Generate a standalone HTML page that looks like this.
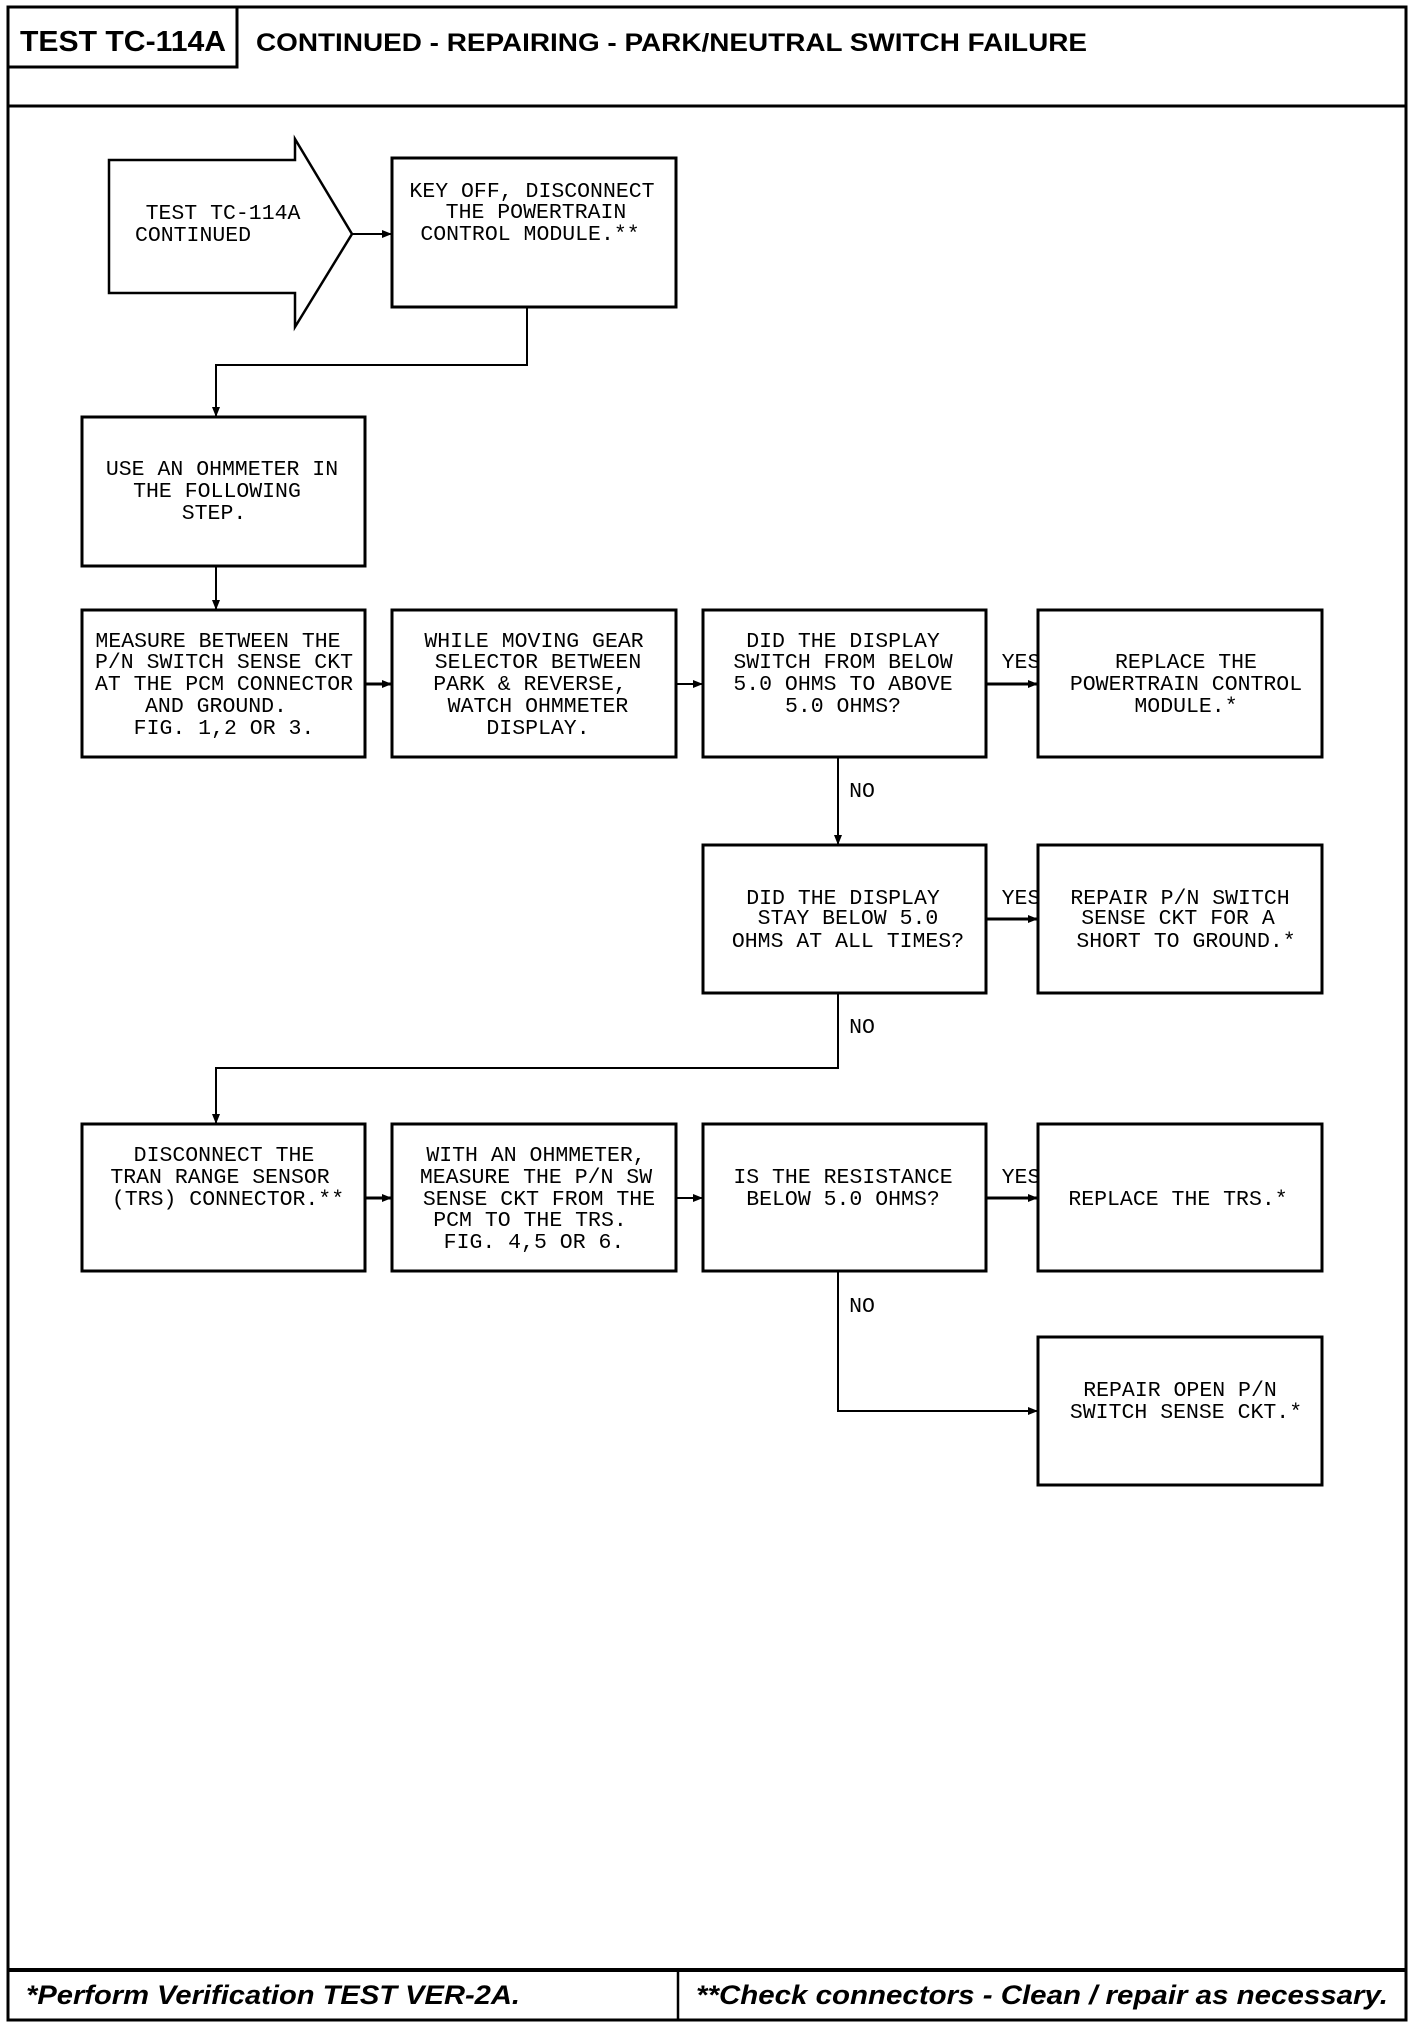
<!DOCTYPE html>
<html><head><meta charset="utf-8"><style>
html,body{margin:0;padding:0;background:#fff;}
svg{display:block;}
.t{font-family:"Liberation Mono",monospace;font-size:21.5px;fill:#000;text-anchor:middle;}
.h{font-family:"Liberation Sans",sans-serif;font-weight:bold;fill:#000;}
.f{font-family:"Liberation Sans",sans-serif;font-weight:bold;font-style:italic;fill:#000;}
</style></head><body>
<svg width="1424" height="2034" viewBox="0 0 1424 2034" xmlns="http://www.w3.org/2000/svg">
<defs><marker id="a" markerWidth="10" markerHeight="10" refX="9" refY="5" orient="auto" markerUnits="userSpaceOnUse"><path d="M0,1 L10,5 L0,9 z" fill="#000"/></marker></defs>
<g fill="none" stroke="#000">
<rect x="8" y="7" width="1398" height="2013" stroke-width="3"/>
<line x1="8" y1="106" x2="1406" y2="106" stroke-width="3"/>
<rect x="8" y="7" width="229" height="60" stroke-width="3"/>
<line x1="8" y1="1970" x2="1406" y2="1970" stroke-width="4"/>
<line x1="678" y1="1970" x2="678" y2="2020" stroke-width="2.5"/>
<path d="M109,160 L295,160 L295,139 L352,234 L295,327 L295,293 L109,293 Z" stroke-width="2.5"/>
<g stroke-width="3">
<rect x="392" y="158" width="284" height="149"/>
<rect x="82" y="417" width="283" height="149"/>
<rect x="82" y="610" width="283" height="147"/>
<rect x="392" y="610" width="284" height="147"/>
<rect x="703" y="610" width="283" height="147"/>
<rect x="1038" y="610" width="284" height="147"/>
<rect x="703" y="845" width="283" height="148"/>
<rect x="1038" y="845" width="284" height="148"/>
<rect x="82" y="1124" width="283" height="147"/>
<rect x="392" y="1124" width="284" height="147"/>
<rect x="703" y="1124" width="283" height="147"/>
<rect x="1038" y="1124" width="284" height="147"/>
<rect x="1038" y="1337" width="284" height="148"/>
</g>
<g stroke-width="2">
<line x1="352" y1="234" x2="391" y2="234" marker-end="url(#a)"/>
<path d="M527,307 L527,365 L216,365 L216,416" marker-end="url(#a)"/>
<line x1="216" y1="566" x2="216" y2="609" marker-end="url(#a)"/>
<line x1="365" y1="684" x2="391" y2="684" marker-end="url(#a)" stroke-width="3"/>
<line x1="676" y1="684" x2="702" y2="684" marker-end="url(#a)"/>
<line x1="986" y1="684" x2="1037" y2="684" marker-end="url(#a)" stroke-width="3"/>
<line x1="838" y1="757" x2="838" y2="844" marker-end="url(#a)"/>
<line x1="986" y1="919" x2="1037" y2="919" marker-end="url(#a)" stroke-width="3"/>
<path d="M838,993 L838,1068 L216,1068 L216,1123" marker-end="url(#a)"/>
<line x1="365" y1="1198" x2="391" y2="1198" marker-end="url(#a)" stroke-width="3"/>
<line x1="676" y1="1198" x2="702" y2="1198" marker-end="url(#a)"/>
<line x1="986" y1="1198" x2="1037" y2="1198" marker-end="url(#a)" stroke-width="3"/>
<path d="M838,1271 L838,1411 L1037,1411" marker-end="url(#a)"/>
</g>
</g>
<text class="h" x="20" y="51" font-size="29" textLength="206" lengthAdjust="spacingAndGlyphs">TEST TC-114A</text>
<text class="h" x="256" y="51" font-size="25" textLength="831" lengthAdjust="spacingAndGlyphs">CONTINUED - REPAIRING - PARK/NEUTRAL SWITCH FAILURE</text>
<text class="f" x="26" y="2004" font-size="27" textLength="494" lengthAdjust="spacingAndGlyphs">*Perform Verification TEST VER-2A.</text>
<text class="f" x="696" y="2004" font-size="27" textLength="692" lengthAdjust="spacingAndGlyphs">**Check connectors - Clean / repair as necessary.</text>
<g class="t">
<text x="223" y="219">TEST TC-114A</text>
<text x="193" y="241">CONTINUED</text>
<text x="532" y="197">KEY OFF, DISCONNECT</text>
<text x="536" y="218">THE POWERTRAIN</text>
<text x="530" y="240">CONTROL MODULE.**</text>
<text x="222" y="475">USE AN OHMMETER IN</text>
<text x="217" y="497">THE FOLLOWING</text>
<text x="214" y="519">STEP.</text>
<text x="218" y="647">MEASURE BETWEEN THE</text>
<text x="224" y="668">P/N SWITCH SENSE CKT</text>
<text x="224" y="690">AT THE PCM CONNECTOR</text>
<text x="216" y="712">AND GROUND.</text>
<text x="224" y="734">FIG. 1,2 OR 3.</text>
<text x="534" y="647">WHILE MOVING GEAR</text>
<text x="538" y="668">SELECTOR BETWEEN</text>
<text x="530" y="690">PARK &amp; REVERSE,</text>
<text x="538" y="712">WATCH OHMMETER</text>
<text x="538" y="734">DISPLAY.</text>
<text x="843" y="647">DID THE DISPLAY</text>
<text x="843" y="668">SWITCH FROM BELOW</text>
<text x="843" y="690">5.0 OHMS TO ABOVE</text>
<text x="843" y="712">5.0 OHMS?</text>
<text x="1186" y="668">REPLACE THE</text>
<text x="1186" y="690">POWERTRAIN CONTROL</text>
<text x="1186" y="712">MODULE.*</text>
<text x="843" y="904">DID THE DISPLAY</text>
<text x="848" y="924">STAY BELOW 5.0</text>
<text x="848" y="947">OHMS AT ALL TIMES?</text>
<text x="1180" y="904">REPAIR P/N SWITCH</text>
<text x="1178" y="924">SENSE CKT FOR A</text>
<text x="1186" y="947">SHORT TO GROUND.*</text>
<text x="224" y="1161">DISCONNECT THE</text>
<text x="220" y="1183">TRAN RANGE SENSOR</text>
<text x="228" y="1205">(TRS) CONNECTOR.**</text>
<text x="536" y="1161">WITH AN OHMMETER,</text>
<text x="536" y="1183">MEASURE THE P/N SW</text>
<text x="539" y="1205">SENSE CKT FROM THE</text>
<text x="530" y="1226">PCM TO THE TRS.</text>
<text x="534" y="1248">FIG. 4,5 OR 6.</text>
<text x="843" y="1183">IS THE RESISTANCE</text>
<text x="843" y="1205">BELOW 5.0 OHMS?</text>
<text x="1178" y="1205">REPLACE THE TRS.*</text>
<text x="1180" y="1396">REPAIR OPEN P/N</text>
<text x="1186" y="1418">SWITCH SENSE CKT.*</text>
<text x="1021" y="668">YES</text>
<text x="1021" y="904">YES</text>
<text x="1021" y="1183">YES</text>
<text x="862" y="797">NO</text>
<text x="862" y="1033">NO</text>
<text x="862" y="1312">NO</text>
</g>
</svg>
</body></html>
